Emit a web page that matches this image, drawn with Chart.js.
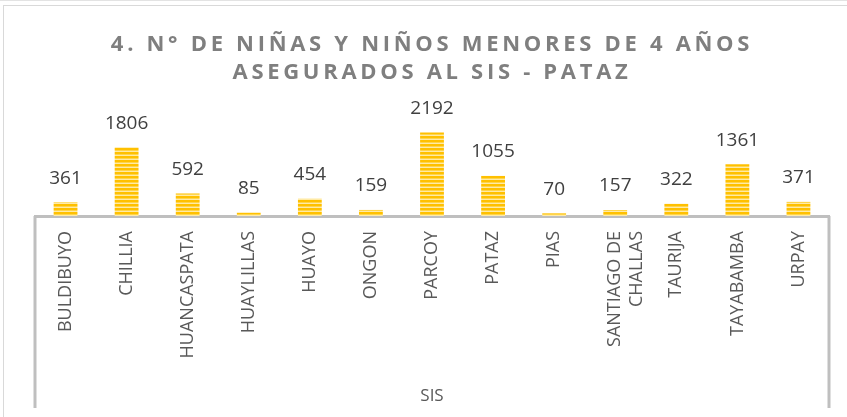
<!DOCTYPE html>
<html>
<head>
<meta charset="utf-8">
<script src="https://cdn.jsdelivr.net/npm/chart.js@4.4.0/dist/chart.umd.min.js"></script>
<style>
  html, body { margin: 0; padding: 0; background: #fff; overflow: hidden; }
  #topline { position: absolute; left: 0; top: 0; width: 847px; height: 1px; background: #e3e3e3; }
  #frame { position: absolute; left: 3px; top: 5px; width: 900px; height: 500px; border: 1px solid #d9d9d9; }
  #wrap { position: absolute; left: 0; top: 0; width: 847px; height: 417px; }
</style>
</head>
<body>
<div id="topline"></div>
<div id="frame"></div>
<div id="wrap"><canvas id="myChart" width="847" height="417"></canvas></div>
<script>
// --- data
const districts = ['BULDIBUYO', 'CHILLIA', 'HUANCASPATA', 'HUAYLILLAS', 'HUAYO', 'ONGON', 'PARCOY',
    'PATAZ', 'PIAS', ['SANTIAGO DE', 'CHALLAS'], 'TAURIJA', 'TAYABAMBA', 'URPAY'];
const insured = [361, 1806, 592, 85, 454, 159, 2192, 1055, 70, 157, 322, 1361, 371];
const titleLines = ['4. N° DE NIÑAS Y NIÑOS MENORES DE 4 AÑOS', 'ASEGURADOS AL SIS - PATAZ'];
const axisTitle = 'SIS';

// striped fill like the excel pattern
function stripePattern() {
    const c = document.createElement('canvas');
    c.width = 4; c.height = 4;
    const g = c.getContext('2d');
    g.fillStyle = '#FFC000';
    g.fillRect(0, 0, 4, 2);
    g.fillStyle = '#FFD54A';
    g.fillRect(0, 2, 4, 1);
    g.fillStyle = '#FFEAA6';
    g.fillRect(0, 3, 4, 1);
    return g.createPattern(c, 'repeat');
}

// title with letter spacing
const spacedTitle = {
    id: 'spacedTitle',
    beforeDraw(chart) {
        const tb = chart.titleBlock;
        if (tb && !tb._spaced) {
            const orig = tb.draw.bind(tb);
            tb.draw = function () {
                chart.ctx.save();
                chart.ctx.letterSpacing = '3.7px';
                orig();
                chart.ctx.restore();
            };
            tb._spaced = true;
        }
    }
};

// value labels above the bars
const valueLabels = {
    id: 'valueLabels',
    afterDatasetsDraw(chart) {
        const ctx = chart.ctx;
        const meta = chart.getDatasetMeta(0);
        ctx.save();
        ctx.font = '19px "Open Sans"';
        ctx.fillStyle = '#404040';
        ctx.textAlign = 'center';
        ctx.textBaseline = 'middle';
        meta.data.forEach(function (bar, i) {
            ctx.fillText(chart.data.datasets[0].data[i], bar.x, bar.y - 24);
        });
        ctx.restore();
    }
};

// outer lines of the category axis
const axisSides = {
    id: 'axisSides',
    afterDraw(chart) {
        const x = chart.scales.x;
        const ctx = chart.ctx;
        ctx.save();
        ctx.strokeStyle = '#BFBFBF';
        ctx.lineWidth = 3;
        ctx.beginPath();
        ctx.moveTo(x.left, x.top);
        ctx.lineTo(x.left, x.bottom);
        ctx.moveTo(x.right, x.top);
        ctx.lineTo(x.right, x.bottom);
        ctx.stroke();
        ctx.restore();
    }
};

const ctx = document.getElementById('myChart');
new Chart(ctx, {
    type: 'bar',
    data: {
        labels: districts,
        datasets: [{
            label: 'SIS',
            data: insured,
            backgroundColor: stripePattern(),
            borderWidth: 0,
            barPercentage: 0.39,
            categoryPercentage: 1
        }]
    },
    options: {
        responsive: false,
        animation: false,
        layout: { padding: { left: 35, right: 18, top: 0, bottom: 9 } },
        plugins: {
            legend: { display: false },
            tooltip: { enabled: false },
            title: {
                display: true,
                text: titleLines,
                color: '#7F7F7F',
                font: { family: 'Open Sans', size: 22, weight: 'bold', lineHeight: 1.27 },
                padding: { top: 31, bottom: 34 }
            }
        },
        scales: {
            x: {
                grid: { display: false, drawTicks: false },
                border: { display: true, color: '#BFBFBF', width: 3 },
                ticks: {
                    minRotation: 90, maxRotation: 90, autoSkip: false, padding: 15,
                    color: '#595959',
                    font: { family: 'Open Sans', size: 18 }
                },
                title: {
                    display: true, text: axisTitle, color: '#595959',
                    font: { family: 'Open Sans', size: 17 },
                    padding: { top: 0, bottom: 2 }
                },
                afterFit: function (scale) { scale.height = 192; }
            },
            y: {
                display: false,
                min: 0,
                max: 2500
            }
        }
    },
    plugins: [spacedTitle, valueLabels, axisSides]
});
</script>
</body>
</html>
